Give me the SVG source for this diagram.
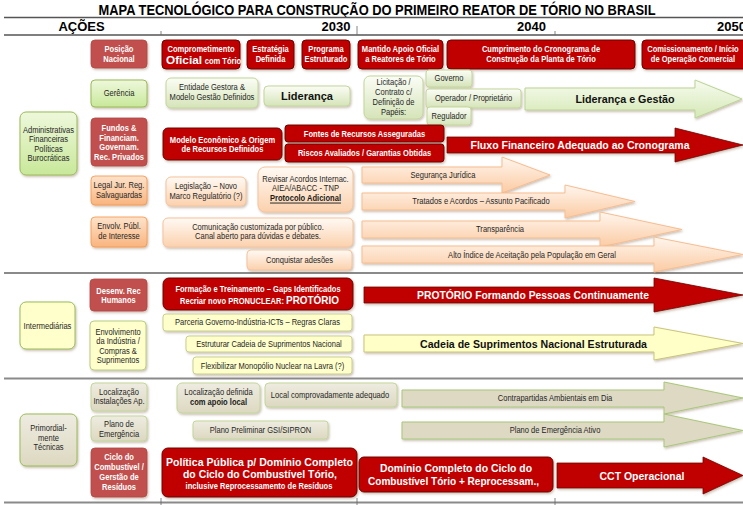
<svg xmlns="http://www.w3.org/2000/svg" width="743" height="505" viewBox="0 0 743 505">
<defs>
  <filter id="sh" x="-10%" y="-20%" width="130%" height="160%">
    <feDropShadow dx="1" dy="1.5" stdDeviation="0.9" flood-color="#6b4a2a" flood-opacity="0.35"/>
  </filter>
  <linearGradient id="gGreen" x1="0" y1="0" x2="0" y2="1"><stop offset="0" stop-color="#fbfdf6"/><stop offset="1" stop-color="#d5e4b8"/></linearGradient>
  <linearGradient id="gGreenCol" x1="0" y1="0" x2="0" y2="1"><stop offset="0" stop-color="#eef8dc"/><stop offset="1" stop-color="#c8e899"/></linearGradient>
  <linearGradient id="gPeach" x1="0" y1="0" x2="0" y2="1"><stop offset="0" stop-color="#fffaf4"/><stop offset="1" stop-color="#fbd1ad"/></linearGradient>
  <linearGradient id="gOrange" x1="0" y1="0" x2="0" y2="1"><stop offset="0" stop-color="#fde3cb"/><stop offset="1" stop-color="#f9b47e"/></linearGradient>
  <linearGradient id="gKhaki" x1="0" y1="0" x2="0" y2="1"><stop offset="0" stop-color="#eeece1"/><stop offset="1" stop-color="#dcd8c0"/></linearGradient>
  <linearGradient id="gArrGreen" x1="0" y1="0" x2="0" y2="1"><stop offset="0" stop-color="#f7fbef"/><stop offset="1" stop-color="#d5e8b5"/></linearGradient>
  <linearGradient id="gArrPeach" x1="0" y1="0" x2="0" y2="1"><stop offset="0" stop-color="#fff6ee"/><stop offset="1" stop-color="#fbcba3"/></linearGradient>
</defs>
<style>
  /* narrow captions: Arial-metric face squeezed to Arial Narrow proportions */
  .nr, .nw, .nbk { font-family: "Liberation Sans", Arial, sans-serif; font-size: 9px; text-anchor: middle;
                   transform-box: fill-box; transform-origin: center; transform: scaleX(0.84); }
  .nr { fill: #262626; }
  .nw { font-weight: bold; fill: #ffffff; }
  .nbk { font-weight: bold; fill: #1a1a1a; }
  .bw { font-family: "Liberation Sans", Arial, sans-serif; font-size: 11px; font-weight: bold; fill: #ffffff; text-anchor: middle; }
  .bk { font-family: "Liberation Sans", Arial, sans-serif; font-size: 11px; font-weight: bold; fill: #111111; text-anchor: middle; }
  .hd { font-family: "Liberation Sans", Arial, sans-serif; font-weight: bold; fill: #000000; }
  .rule { stroke: #555555; stroke-width: 1.3; fill: none; }
  .sep { stroke: #8a8a8a; stroke-width: 2; fill: none; }
  .tick { stroke: #666666; stroke-width: 0.8; }
  .red { fill: #c00000; stroke: #6e0000; stroke-width: 1; filter: url(#sh); }
  .brn { fill: #c0504d; stroke: #b14844; stroke-width: 0.8; filter: url(#sh); }
  .grn { fill: url(#gGreen); stroke: #c3d69b; stroke-width: 1; filter: url(#sh); }
  .grc { fill: url(#gGreenCol); stroke: #9bbb59; stroke-width: 1; filter: url(#sh); }
  .pch { fill: url(#gPeach); stroke: #f5c39c; stroke-width: 1; filter: url(#sh); }
  .org { fill: url(#gOrange); stroke: #f79646; stroke-width: 0.8; filter: url(#sh); }
  .yel { fill: #ffffcc; stroke: #c9cf8f; stroke-width: 1; filter: url(#sh); }
  .yec { fill: #ffffcc; stroke: #9bbb59; stroke-width: 1; filter: url(#sh); }
  .kha { fill: url(#gKhaki); stroke: #c3d69b; stroke-width: 1; filter: url(#sh); }
  .aGrn { fill: url(#gArrGreen); stroke: #bcd396; stroke-width: 1; filter: url(#sh); }
  .aPch { fill: url(#gArrPeach); stroke: #f7bd90; stroke-width: 1; filter: url(#sh); }
  .aRed { fill: #c00000; stroke: #6e0000; stroke-width: 0.8; filter: url(#sh); }
  .aYel { fill: #ffffc8; stroke: #c9c57a; stroke-width: 1; filter: url(#sh); }
  .aKha { fill: #ddd9c3; stroke: #a9c77a; stroke-width: 1; filter: url(#sh); }
</style>

<rect x="0" y="0" width="743" height="505" fill="#ffffff"/>

<!-- title and time axis -->
<g id="header">
  <text class="hd" x="377" y="15" font-size="14.5" text-anchor="middle" textLength="557" lengthAdjust="spacingAndGlyphs">MAPA TECNOLÓGICO PARA CONSTRUÇÃO DO PRIMEIRO REATOR DE TÓRIO NO BRASIL</text>
  <line class="rule" x1="4" y1="17.5" x2="743" y2="17.5"/>
  <text class="hd" x="81.5" y="31" font-size="13" text-anchor="middle">AÇÕES</text>
  <text class="hd" x="336" y="31" font-size="13" text-anchor="middle">2030</text>
  <text class="hd" x="531.5" y="31" font-size="13" text-anchor="middle">2040</text>
  <text class="hd" x="717" y="31" font-size="13">2050</text>
  <line class="rule" x1="4" y1="35" x2="743" y2="35"/>
  <line class="tick" x1="161" y1="31" x2="161" y2="35"/>
  <line class="tick" x1="357" y1="26" x2="357" y2="35"/>
  <line class="tick" x1="555" y1="31" x2="555" y2="35"/>
</g>

<!-- section separators -->
<g id="separators">
  <line class="sep" x1="4" y1="273" x2="743" y2="273"/>
  <line class="sep" x1="4" y1="378.5" x2="743" y2="378.5"/>
  <line class="sep" x1="4" y1="502.5" x2="743" y2="502.5"/>
  <line class="tick" x1="161" y1="498" x2="161" y2="505"/>
  <line class="tick" x1="357" y1="498" x2="357" y2="505"/>
  <line class="tick" x1="555" y1="498" x2="555" y2="505"/>
</g>

<!-- category column -->
<g id="n-administrativas">
  <rect class="grc" x="20" y="112" width="57" height="63" rx="6"/>
  <text class="nr"><tspan x="48.5" y="133">Administrativas</tspan><tspan x="48.5" y="142.5">Financeiras</tspan><tspan x="48.5" y="152">Políticas</tspan><tspan x="48.5" y="161.5">Burocráticas</tspan></text>
</g>
<g id="n-intermediarias">
  <rect class="yec" x="20" y="302" width="55" height="47" rx="6"/>
  <text class="nr" x="47.5" y="329">Intermediárias</text>
</g>
<g id="n-primordial">
  <rect class="kha" x="20" y="414" width="57" height="52" rx="6" style="stroke:#9bbb59"/>
  <text class="nr"><tspan x="48.5" y="431.5">Primordial-</tspan><tspan x="48.5" y="441">mente</tspan><tspan x="48.5" y="450.5">Técnicas</tspan></text>
</g>

<!-- action column -->
<g id="n-posicao">
  <rect class="brn" x="91" y="40" width="56" height="28" rx="4"/>
  <text class="nw"><tspan x="119" y="52">Posição</tspan><tspan x="119" y="62">Nacional</tspan></text>
</g>
<g id="n-gerencia">
  <rect class="grc" x="91" y="80" width="56" height="27" rx="4"/>
  <text class="nr" x="119" y="96.5">Gerência</text>
</g>
<g id="n-fundos">
  <rect class="brn" x="91" y="118" width="56" height="48" rx="4"/>
  <text class="nw"><tspan x="119" y="131">Fundos  &amp;</tspan><tspan x="119" y="141">Financiam.</tspan><tspan x="119" y="150.5">Governam.</tspan><tspan x="119" y="160">Rec. Privados</tspan></text>
</g>
<g id="n-legal">
  <rect class="org" x="91" y="176" width="56" height="29" rx="4"/>
  <text class="nr"><tspan x="119" y="188.5">Legal Jur. Reg.</tspan><tspan x="119" y="198">Salvaguardas</tspan></text>
</g>
<g id="n-envolv">
  <rect class="org" x="91" y="217" width="56" height="30" rx="4"/>
  <text class="nr"><tspan x="119" y="229.5">Envolv. Públ.</tspan><tspan x="119" y="239">de Interesse</tspan></text>
</g>
<g id="n-desenv">
  <rect class="brn" x="90" y="279" width="57" height="32" rx="4"/>
  <text class="nw"><tspan x="118.5" y="294">Desenv. Rec</tspan><tspan x="118.5" y="303.5">Humanos</tspan></text>
</g>
<g id="n-envolvimento">
  <rect class="yel" x="90" y="321" width="56" height="49" rx="4" style="stroke:#b8cc84"/>
  <text class="nr"><tspan x="118" y="335">Envolvimento</tspan><tspan x="118" y="344.5">da Indústria /</tspan><tspan x="118" y="354">Compras &amp;</tspan><tspan x="118" y="363.5">Suprimentos</tspan></text>
</g>
<g id="n-localizacao">
  <rect class="kha" x="91" y="383" width="56" height="28" rx="4"/>
  <text class="nr"><tspan x="119" y="395">Localização</tspan><tspan x="119" y="404.5">Instalações Ap.</tspan></text>
</g>
<g id="n-plano">
  <rect class="kha" x="91" y="416" width="56" height="25" rx="4"/>
  <text class="nr"><tspan x="119" y="427.5">Plano de</tspan><tspan x="119" y="437">Emergência</tspan></text>
</g>
<g id="n-ciclo">
  <rect class="brn" x="91" y="448" width="56" height="49" rx="4"/>
  <text class="nw"><tspan x="119" y="460.5">Ciclo do</tspan><tspan x="119" y="470">Combustível /</tspan><tspan x="119" y="480">Gerstão de</tspan><tspan x="119" y="490">Resíduos</tspan></text>
</g>

<!-- milestones: national position -->
<g id="n-comprometimento">
  <rect class="red" x="162" y="40" width="78" height="29" rx="4"/>
  <text class="nw" x="201" y="52">Comprometimento</text>
  <text class="bw" x="184" y="64" textLength="36" lengthAdjust="spacingAndGlyphs">Oficial</text>
  <text class="nw" x="223" y="64">com Tório</text>
</g>
<g id="n-estrategia">
  <rect class="red" x="247" y="40" width="47" height="29" rx="4"/>
  <text class="nw"><tspan x="270.5" y="52.5">Estratégia</tspan><tspan x="270.5" y="62.5">Definida</tspan></text>
</g>
<g id="n-programa">
  <rect class="red" x="302" y="40" width="48" height="29" rx="4"/>
  <text class="nw"><tspan x="326" y="52.5">Programa</tspan><tspan x="326" y="62.5">Estruturado</tspan></text>
</g>
<g id="n-mantido">
  <rect class="red" x="358" y="40" width="85" height="29" rx="4"/>
  <text class="nw"><tspan x="400.5" y="52.5">Mantido Apoio Oficial</tspan><tspan x="400.5" y="62.5">a Reatores de Tório</tspan></text>
</g>
<g id="n-cumprimento">
  <rect class="red" x="447" y="40" width="188" height="29" rx="4"/>
  <text class="nw"><tspan x="541" y="52.5">Cumprimento do  Cronograma de</tspan><tspan x="541" y="62.5">Construção da Planta de Tório</tspan></text>
</g>
<g id="n-comissionamento">
  <rect class="red" x="642" y="40" width="110" height="29" rx="4"/>
  <text class="nw"><tspan x="693" y="52.5">Comissionamento / Início</tspan><tspan x="693" y="62.5">de Operação Comercial</tspan></text>
</g>

<!-- management -->
<g id="n-entidade">
  <rect class="grn" x="166" y="78" width="92" height="30" rx="5"/>
  <text class="nr"><tspan x="212" y="90.5">Entidade Gestora &amp;</tspan><tspan x="212" y="100">Modelo Gestão Definidos</tspan></text>
</g>
<g id="n-lideranca">
  <rect class="grn" x="264" y="86" width="86" height="20" rx="4"/>
  <text class="bk" x="307" y="100">Liderança</text>
</g>
<g id="n-licitacao">
  <rect class="grn" x="364" y="76" width="59" height="43" rx="6"/>
  <text class="nr"><tspan x="393.5" y="85.5">Licitação /</tspan><tspan x="393.5" y="95.5">Contrato c/</tspan><tspan x="393.5" y="105.5">Definição de</tspan><tspan x="393.5" y="115">Papéis:</tspan></text>
</g>
<g id="n-governo">
  <rect class="grn" x="426" y="70" width="46" height="17" rx="3"/>
  <text class="nr" x="449" y="81.5">Governo</text>
</g>
<g id="n-operador">
  <rect class="grn" x="426" y="89" width="95" height="19" rx="3"/>
  <text class="nr" x="473.5" y="101.5">Operador / Proprietário</text>
</g>
<g id="n-regulador">
  <rect class="grn" x="427" y="107" width="44" height="18" rx="3"/>
  <text class="nr" x="449" y="119">Regulador</text>
</g>

<!-- funding -->
<g id="n-modelo">
  <rect class="red" x="163" y="128" width="119" height="32" rx="5"/>
  <text class="nw"><tspan x="222.5" y="143">Modelo Econômico &amp; Origem</tspan><tspan x="222.5" y="152.5">de Recursos Definidos</tspan></text>
</g>
<g id="n-fontes">
  <rect class="red" x="285" y="125" width="159" height="17" rx="3"/>
  <text class="nw" x="364.5" y="137">Fontes de Recursos Asseguradas</text>
</g>
<g id="n-riscos">
  <rect class="red" x="285" y="144" width="159" height="18" rx="3"/>
  <text class="nw" x="364.5" y="156.5">Riscos Avaliados / Garantias Obtidas</text>
</g>

<!-- legal -->
<g id="n-legislacao">
  <rect class="pch" x="166" y="177" width="80" height="29" rx="5"/>
  <text class="nr"><tspan x="206" y="189.5">Legislação – Novo</tspan><tspan x="206" y="199">Marco Regulatório (?)</tspan></text>
</g>
<g id="n-revisar">
  <rect class="pch" x="258" y="167" width="95" height="45" rx="7"/>
  <text class="nr"><tspan x="305.5" y="182">Revisar Acordos Internac.</tspan><tspan x="305.5" y="191.5">AIEA/ABACC - TNP</tspan></text>
  <text class="nbk" x="305.5" y="201.5" text-decoration="underline">Protocolo Adicional</text>
</g>

<!-- public engagement -->
<g id="n-comunicacao">
  <rect class="pch" x="163" y="218" width="190" height="29" rx="5"/>
  <text class="nr"><tspan x="258" y="230">Comunicação customizada por público.</tspan><tspan x="258" y="239.5">Canal aberto para dúvidas e debates.</tspan></text>
</g>
<g id="n-conquistar">
  <rect class="pch" x="247" y="250" width="105" height="20" rx="4"/>
  <text class="nr" x="299.5" y="263">Conquistar adesões</text>
</g>

<!-- human resources and industry -->
<g id="n-formacao">
  <rect class="red" x="163" y="278" width="190" height="32" rx="6"/>
  <text class="nw" x="258" y="292.5">Formação e Treinamento – Gaps Identificados</text>
  <text class="nw" x="232" y="304">Recriar novo PRONUCLEAR:</text>
  <text class="bw" x="312.5" y="304" textLength="53" lengthAdjust="spacingAndGlyphs">PROTÓRIO</text>
</g>
<g id="n-parceria">
  <rect class="yel" x="163" y="314" width="189" height="17" rx="3"/>
  <text class="nr" x="257.5" y="325.5">Parceria Governo-Indústria-ICTs – Regras Claras</text>
</g>
<g id="n-estruturar">
  <rect class="yel" x="186" y="336" width="166" height="16" rx="3"/>
  <text class="nr" x="269" y="347">Estruturar Cadeia de Suprimentos Nacional</text>
</g>
<g id="n-flexibilizar">
  <rect class="yel" x="193" y="357" width="159" height="17" rx="3"/>
  <text class="nr" x="272.5" y="369">Flexibilizar Monopólio Nuclear na Lavra (?)</text>
</g>

<!-- siting, emergency, fuel cycle -->
<g id="n-loc-definida">
  <rect class="kha" x="177" y="383" width="83" height="30" rx="5"/>
  <text class="nr" x="218.5" y="395.5">Localização definida</text>
  <text class="nbk" x="218.5" y="405.5">com apoio local</text>
</g>
<g id="n-local-comprovado">
  <rect class="kha" x="265" y="383" width="132" height="24" rx="4"/>
  <text class="nr" x="330" y="398">Local comprovadamente adequado</text>
</g>
<g id="n-plano-preliminar">
  <rect class="kha" x="193" y="421" width="135" height="18" rx="3"/>
  <text class="nr" x="260.5" y="433">Plano Preliminar GSI/SIPRON</text>
</g>
<g id="n-politica">
  <rect class="red" x="162" y="448" width="195" height="49" rx="6"/>
  <text class="bw" x="259.5" y="466" textLength="187" lengthAdjust="spacingAndGlyphs">Política Pública p/ Domínio Completo</text>
  <text class="bw" x="260" y="478" textLength="154" lengthAdjust="spacingAndGlyphs">do Ciclo do Combustível Tório,</text>
  <text class="nw" x="259" y="489.5">inclusive Reprocessamento de Resíduos</text>
</g>
<g id="n-dominio">
  <rect class="red" x="359" y="457" width="194" height="35" rx="5"/>
  <text class="bw" x="456" y="472" textLength="152" lengthAdjust="spacingAndGlyphs">Domínio Completo do Ciclo do</text>
  <text class="bw" x="453.5" y="485" textLength="171" lengthAdjust="spacingAndGlyphs">Combustível Tório + Reprocessam.,</text>
</g>

<!-- progression arrows -->
<g id="connectors">
  <g id="a-lideranca-gestao">
    <polygon class="aGrn" points="525,88 695,88 695,80 742,99 695,118 695,110 525,110"/>
    <text class="bk" x="625" y="103" textLength="99" lengthAdjust="spacingAndGlyphs">Liderança e Gestão</text>
  </g>
  <g id="a-fluxo">
    <polygon class="aRed" points="447,137 675,137 675,128 743,145 675,162 675,153 447,153"/>
    <text class="bw" x="580" y="149" textLength="219" lengthAdjust="spacingAndGlyphs">Fluxo Financeiro Adequado ao Cronograma</text>
  </g>
  <g id="a-seguranca">
    <polygon class="aPch" points="362,167 502,167 502,157 550,175 502,193 502,183 362,183"/>
    <text class="nr" x="443" y="178">Segurança Jurídica</text>
  </g>
  <g id="a-tratados">
    <polygon class="aPch" points="362,193 565,193 565,185 635,201.5 565,218 565,210 362,210"/>
    <text class="nr" x="481" y="204.5">Tratados e Acordos – Assunto Pacificado</text>
  </g>
  <g id="a-transparencia">
    <polygon class="aPch" points="362,221 600,221 600,212 682,229.5 600,247 600,238 362,238"/>
    <text class="nr" x="500" y="232.5">Transparência</text>
  </g>
  <g id="a-aceitacao">
    <polygon class="aPch" points="362,246 654,246 654,237 743,254.5 654,272 654,263 362,263"/>
    <text class="nr" x="532" y="258">Alto Índice de Aceitação pela População em Geral</text>
  </g>
  <g id="a-protorio">
    <polygon class="aRed" points="364,287 654,287 654,278 743,295 654,312 654,303 364,303"/>
    <text class="bw" x="533" y="299" textLength="232" lengthAdjust="spacingAndGlyphs">PROTÓRIO Formando Pessoas Continuamente</text>
  </g>
  <g id="a-cadeia">
    <polygon class="aYel" points="364,335 654,335 654,327 743,343.5 654,360 654,352 364,352"/>
    <text class="bk" x="533.5" y="347.5" textLength="227" lengthAdjust="spacingAndGlyphs">Cadeia de Suprimentos Nacional Estruturada</text>
  </g>
  <g id="a-contrapartidas">
    <polygon class="aKha" points="402,390 664,390 664,382 743,398 664,414 664,407 402,407"/>
    <text class="nr" x="555" y="401.5">Contrapartidas Ambientais em Dia</text>
  </g>
  <g id="a-emergencia">
    <polygon class="aKha" points="402,422 664,422 664,414 743,430.5 664,447 664,439 402,439"/>
    <text class="nr" x="555" y="433.5">Plano de Emergência Ativo</text>
  </g>
  <g id="a-cct">
    <polygon class="aRed" points="557,463 703,463 703,457 743,475.5 703,494 703,488 557,488"/>
    <text class="bw" x="642" y="479.5" textLength="85" lengthAdjust="spacingAndGlyphs">CCT Operacional</text>
  </g>
</g>
</svg>
